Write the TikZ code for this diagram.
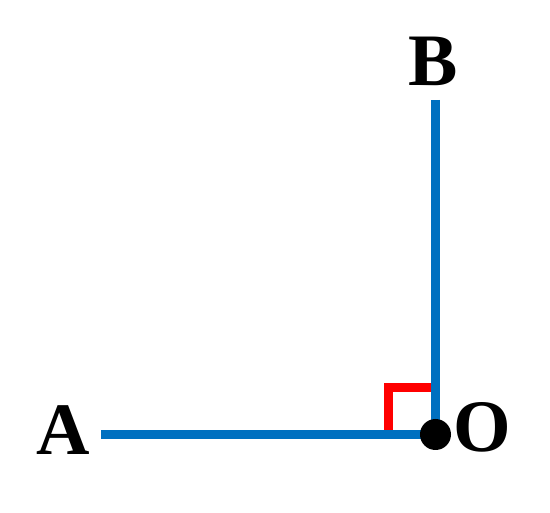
\documentclass[tikz,border=0pt]{standalone}
\usepackage{fontspec}
\setmainfont{Liberation Serif}
\definecolor{lineblue}{RGB}{0,112,192}
\begin{document}
\begin{tikzpicture}[x=1pt,y=-1pt,
  seg/.style={draw=lineblue,line width=9pt},
  rightmark/.style={draw=red,line width=9pt},
  lbl/.style={inner sep=0pt,font=\fontsize{74}{74}\selectfont\bfseries}]
\useasboundingbox (0,0) rectangle (550,513);
\coordinate (O) at (435.5,434.5);
\coordinate (A) at (101,434.5);
\coordinate (B) at (435.5,100);
\draw[rightmark] (431,387.5) -| (388.5,434.5);
\draw[seg] (A) -- (O);
\draw[seg] (B) -- (O);
\fill (O) circle (15.5pt);
\node[lbl] (la) at (63.5,430.5) {A};
\node[lbl] (lb) at (433.5,61) {B};
\node[lbl] (lo) at (482.5,427.5) {O};
\end{tikzpicture}
\end{document}
